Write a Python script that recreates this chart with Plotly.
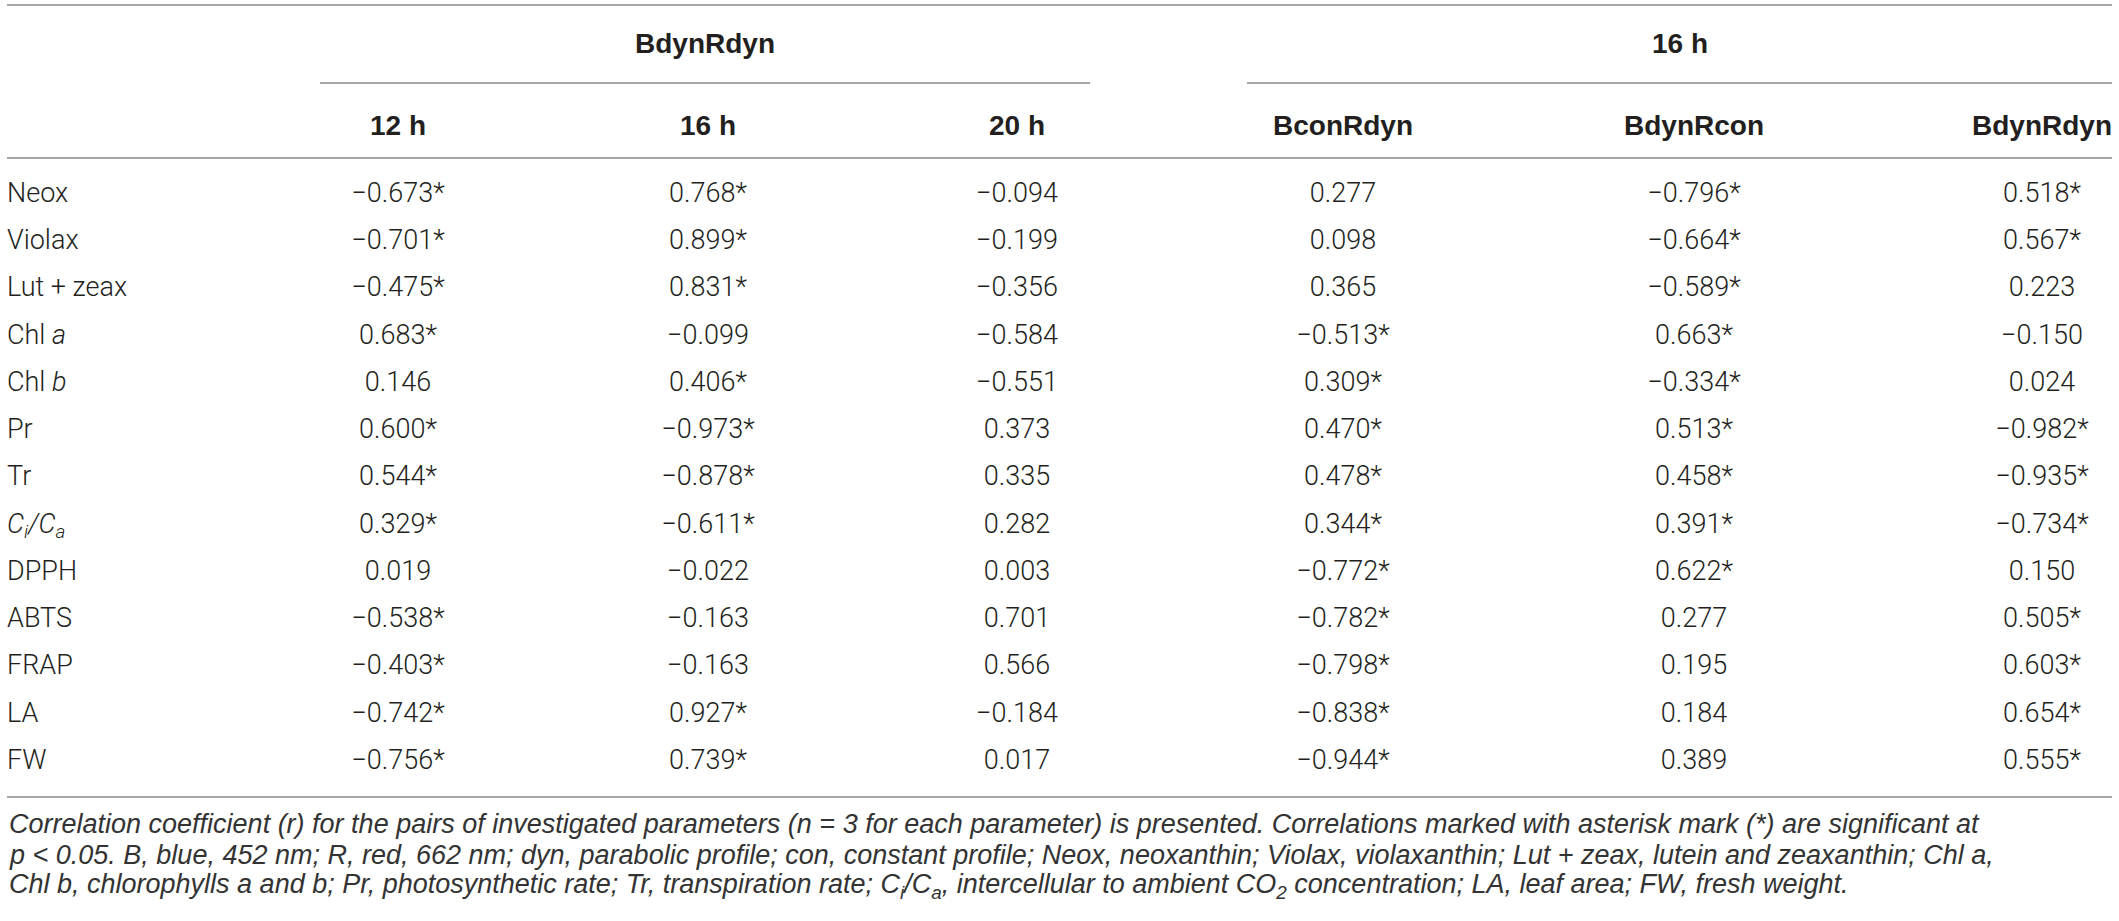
import plotly.graph_objects as go

# table content
params = ['Neox', 'Violax', 'Lut + zeax', 'Chl <i>a</i>', 'Chl <i>b</i>', 'Pr', 'Tr',
          '<i>C<sub>i</sub>/C<sub>a</sub></i>', 'DPPH', 'ABTS', 'FRAP', 'LA', 'FW']

group_headers = ['BdynRdyn', '16 h']
col_headers = ['12 h', '16 h', '20 h', 'BconRdyn', 'BdynRcon', 'BdynRdyn']

r_12h = ['−0.673*', '−0.701*', '−0.475*', '0.683*', '0.146', '0.600*', '0.544*',
         '0.329*', '0.019', '−0.538*', '−0.403*', '−0.742*', '−0.756*']
r_16h = ['0.768*', '0.899*', '0.831*', '−0.099', '0.406*', '−0.973*', '−0.878*',
         '−0.611*', '−0.022', '−0.163', '−0.163', '0.927*', '0.739*']
r_20h = ['−0.094', '−0.199', '−0.356', '−0.584', '−0.551', '0.373', '0.335',
         '0.282', '0.003', '0.701', '0.566', '−0.184', '0.017']
r_bconrdyn = ['0.277', '0.098', '0.365', '−0.513*', '0.309*', '0.470*', '0.478*',
              '0.344*', '−0.772*', '−0.782*', '−0.798*', '−0.838*', '−0.944*']
r_bdynrcon = ['−0.796*', '−0.664*', '−0.589*', '0.663*', '−0.334*', '0.513*', '0.458*',
              '0.391*', '0.622*', '0.277', '0.195', '0.184', '0.389']
r_bdynrdyn = ['0.518*', '0.567*', '0.223', '−0.150', '0.024', '−0.982*', '−0.935*',
              '−0.734*', '0.150', '0.505*', '0.603*', '0.654*', '0.555*']
columns = [r_12h, r_16h, r_20h, r_bconrdyn, r_bdynrcon, r_bdynrdyn]

caption = [
    'Correlation coefficient (r) for the pairs of investigated parameters (n = 3 for each parameter) '
    'is presented. Correlations marked with asterisk mark (*) are significant at',
    'p < 0.05. B, blue, 452 nm; R, red, 662 nm; dyn, parabolic profile; con, constant profile; '
    'Neox, neoxanthin; Violax, violaxanthin; Lut + zeax, lutein and zeaxanthin; Chl a,',
    'Chl b, chlorophylls a and b; Pr, photosynthetic rate; Tr, transpiration rate; '
    'C<sub>i</sub>/C<sub>a</sub>, intercellular to ambient CO<sub>2</sub> concentration; '
    'LA, leaf area; FW, fresh weight.',
]

# layout (pixel units)
W, H = 2119, 921
LEFT, RIGHT = 7, 2112
col_x = [398, 708, 1017, 1343, 1694, 2042]
group_span = [(320, 1090), (1247, 2112)]
row0, row_step = 195, 47.25
line_col = '#8a8a8a'
txt_col = '#231f20'
body_font = dict(family='Roboto, Liberation Sans, sans-serif', size=27, color=txt_col, weight=300)
head_font = dict(family='Liberation Sans, Arial, sans-serif', size=28, color=txt_col, weight='bold')
cap_font = dict(family='Liberation Sans, Arial, sans-serif', size=27, color='#333333',
                style='italic')

row_y = [row0 + i * row_step for i in range(len(params))]

fig = go.Figure()

fig.add_trace(go.Scatter(
    x=[LEFT] * len(params), y=row_y, text=params, mode='text',
    textposition='middle right', textfont=body_font, hoverinfo='skip',
))
for cx, vals in zip(col_x, columns):
    fig.add_trace(go.Scatter(
        x=[cx] * len(vals), y=row_y, text=vals, mode='text',
        textposition='middle center', textfont=body_font, hoverinfo='skip',
    ))

# header rows
for (x0, x1), name in zip(group_span, group_headers):
    fig.add_annotation(x=(x0 + x1) / 2, y=43, text=name, showarrow=False, font=head_font)
    fig.add_shape(type='line', x0=x0, x1=x1, y0=83, y1=83, line=dict(color=line_col, width=1.5))
for cx, name in zip(col_x, col_headers):
    fig.add_annotation(x=cx, y=125, text=name, showarrow=False, font=head_font)

for yy in [5, 158, 797]:
    fig.add_shape(type='line', x0=LEFT, x1=RIGHT, y0=yy, y1=yy, line=dict(color=line_col, width=1.5))

for yy, line in zip([824, 855, 886], caption):
    fig.add_annotation(x=LEFT, y=yy, text=line, showarrow=False, xanchor='left',
                       font=cap_font)

fig.update_layout(
    width=W, height=H,
    margin=dict(l=0, r=0, t=0, b=0),
    paper_bgcolor='white', plot_bgcolor='white',
    showlegend=False,
    xaxis=dict(range=[0, W], visible=False, fixedrange=True),
    yaxis=dict(range=[H, 0], visible=False, fixedrange=True),
)

fig.write_html("out.html", config={'displayModeBar': False},
               post_script="document.body.style.margin='0';")
